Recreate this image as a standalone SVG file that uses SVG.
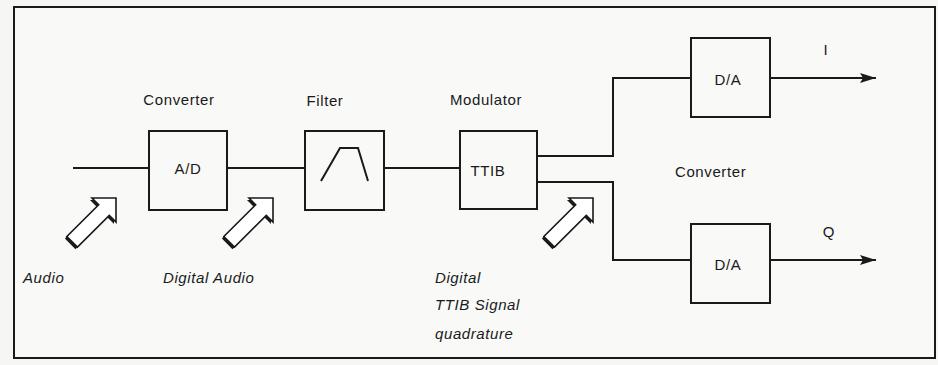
<svg xmlns="http://www.w3.org/2000/svg" width="938" height="365" viewBox="0 0 938 365">
<style>
.box{fill:none;stroke:#1a1a1a;stroke-width:2}
.wire{fill:none;stroke:#1a1a1a;stroke-width:2}
.t{font-family:"Liberation Sans",Arial,sans-serif;font-size:15px;fill:#1a1a1a;letter-spacing:0.6px}
.ti{font-family:"Liberation Sans",Arial,sans-serif;font-size:15px;font-style:italic;fill:#1a1a1a;letter-spacing:0.6px}
.c{text-anchor:middle}
.arr{fill:#fff;stroke:#1a1a1a;stroke-width:1.6;stroke-linejoin:miter}
.sh{fill:#1a1a1a}
</style>
<defs>
<marker id="ah" viewBox="0 0 16 10" refX="16" refY="5" markerWidth="16" markerHeight="10" markerUnits="userSpaceOnUse" orient="auto">
<path d="M0,0 L16,5 L0,10 L3,5 Z" fill="#1a1a1a"/>
</marker>
<polygon id="blk" points="0,0 -17,-17 -17,-7.5 -62,-7.5 -62,7.5 -17,7.5 -17,17"/>
</defs>
<rect x="0" y="0" width="938" height="365" fill="#f6f6f4"/>
<rect x="14" y="7" width="921" height="351" fill="#f9f9f8" stroke="#1a1a1a" stroke-width="2"/>

<g id="connectors">
<line class="wire" x1="73" y1="168" x2="149" y2="168"/>
<line class="wire" x1="227" y1="168" x2="305" y2="168"/>
<line class="wire" x1="384" y1="168" x2="460" y2="168"/>
<polyline class="wire" points="537,156 613,156 613,78 691,78"/>
<polyline class="wire" points="537,182 613,182 613,260 691,260"/>
<line class="wire" x1="770" y1="78" x2="876" y2="78" marker-end="url(#ah)"/>
<line class="wire" x1="770" y1="260" x2="876" y2="260" marker-end="url(#ah)"/>
</g>

<g id="ad">
<rect class="box" x="149" y="131" width="78" height="79"/>
<text class="t c" x="188" y="174">A/D</text>
<text class="t c" x="179" y="105">Converter</text>
</g>

<g id="filter">
<rect class="box" x="305" y="131" width="79" height="79"/>
<polyline class="wire" points="321,181 340,148 358,148 368,181"/>
<text class="t c" x="325" y="106">Filter</text>
</g>

<g id="ttib">
<rect class="box" x="460" y="131" width="77" height="78"/>
<text class="t c" x="488" y="176">TTIB</text>
<text class="t c" x="486" y="105">Modulator</text>
</g>

<g id="da-i">
<rect class="box" x="691" y="38" width="79" height="79"/>
<text class="t c" x="728" y="85">D/A</text>
<text class="t c" x="826" y="55">I</text>
</g>

<g id="da-q">
<rect class="box" x="691" y="224" width="79" height="79"/>
<text class="t c" x="728" y="270">D/A</text>
<text class="t c" x="829" y="237">Q</text>
</g>

<text class="t" x="675" y="177">Converter</text>

<g id="arrow-audio">
<use href="#blk" class="sh" transform="translate(114,200) rotate(-45)"/>
<use href="#blk" class="arr" transform="translate(116,198) rotate(-45)"/>
<text class="ti" x="23" y="283">Audio</text>
</g>

<g id="arrow-digital">
<use href="#blk" class="sh" transform="translate(271,200) rotate(-45)"/>
<use href="#blk" class="arr" transform="translate(273,198) rotate(-45)"/>
<text class="ti" x="163" y="283">Digital Audio</text>
</g>

<g id="arrow-ttib">
<use href="#blk" class="sh" transform="translate(591,200) rotate(-45)"/>
<use href="#blk" class="arr" transform="translate(593,198) rotate(-45)"/>
<text class="ti" x="435" y="283">Digital</text>
<text class="ti" x="435" y="310">TTIB Signal</text>
<text class="ti" x="435" y="339">quadrature</text>
</g>
</svg>
